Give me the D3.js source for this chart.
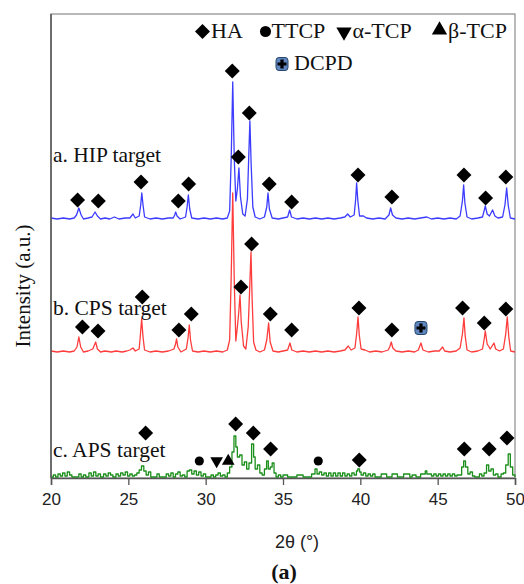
<!DOCTYPE html>
<html>
<head>
<meta charset="utf-8">
<script src="https://cdn.jsdelivr.net/npm/d3@7/dist/d3.min.js"></script>
<style>
  html, body { margin: 0; padding: 0; background: #fff; }
  svg { display: block; }
</style>
</head>
<body>
<script>
// XRD patterns of the three targets, 2θ (°) vs intensity (a.u., relative to each pattern's own baseline)
const hipPattern = [
  [20.0,1],[20.4,0],[20.8,1],[21.2,0],[21.5,1],[21.65,4],[21.8,11],[21.95,4],[22.1,0],[22.4,1],[22.65,2],[22.85,7],[23.0,3],[23.2,0],
  [23.5,1],[23.8,0],[24.1,2],[24.4,0],[24.8,1],[25.1,1],[25.3,5],[25.45,1],[25.7,3],[25.8,14],[25.87,26],[25.95,14],[26.05,2],
  [26.4,0],[26.8,1],[27.2,0],[27.6,1],[27.9,1],[28.0,4],[28.06,7],[28.15,3],[28.35,0],[28.7,2],[28.8,12],[28.88,24],[28.97,10],
  [29.1,1],[29.5,0],[29.9,1],[30.3,0],[30.7,1],[31.1,0],[31.4,1],[31.55,8],[31.65,60],[31.75,137],[31.85,60],[31.95,18],[32.05,30],
  [32.15,51],[32.25,22],[32.4,5],[32.55,3],[32.7,20],[32.78,60],[32.86,98],[32.94,55],[33.05,12],[33.2,2],[33.5,0],[33.8,2],
  [33.95,12],[34.03,26],[34.12,10],[34.3,1],[34.7,0],[35.0,1],[35.3,2],[35.43,9],[35.55,2],[35.9,0],[36.3,1],[36.7,0],[37.1,1],
  [37.5,0],[37.9,1],[38.3,0],[38.7,1],[39.0,2],[39.18,5],[39.35,2],[39.6,4],[39.7,20],[39.76,36],[39.84,18],[39.95,3],[40.2,3],
  [40.4,1],[40.8,0],[41.2,1],[41.6,0],[41.85,4],[41.96,11],[42.08,4],[42.3,1],[42.7,0],[43.1,1],[43.5,0],[43.9,1],[44.3,2],
  [44.6,0],[45.0,1],[45.4,0],[45.8,1],[46.2,0],[46.45,3],[46.6,18],[46.68,34],[46.76,16],[46.9,2],[47.2,0],[47.6,1],[47.9,2],
  [48.0,8],[48.08,13],[48.2,5],[48.35,3],[48.55,9],[48.7,3],[48.9,1],[49.2,2],[49.35,14],[49.46,31],[49.56,14],[49.7,1],[50.0,0]
];

const cpsPattern = [
  [20.0,1],[20.4,0],[20.8,1],[21.2,0],[21.5,1],[21.68,5],[21.8,15],[21.92,5],[22.1,0],[22.4,1],[22.7,3],[22.89,10],[23.0,3],
  [23.2,0],[23.5,1],[23.9,0],[24.2,1],[24.6,0],[24.9,1],[25.1,2],[25.3,4],[25.45,1],[25.7,3],[25.78,17],[25.86,33],[25.95,15],
  [26.05,2],[26.4,0],[26.8,1],[27.2,0],[27.6,1],[27.95,3],[28.05,8],[28.12,13],[28.2,5],[28.4,0],[28.75,3],[28.86,14],[28.94,27],
  [29.02,12],[29.15,1],[29.5,0],[29.9,1],[30.3,0],[30.7,1],[31.1,0],[31.4,2],[31.55,12],[31.65,75],[31.75,159],[31.85,70],
  [31.95,11],[32.05,25],[32.14,40],[32.22,57],[32.3,30],[32.45,6],[32.6,3],[32.75,25],[32.85,65],[32.93,100],[33.0,55],[33.1,10],
  [33.25,2],[33.5,0],[33.8,2],[33.95,12],[34.07,29],[34.17,10],[34.35,1],[34.7,0],[35.0,1],[35.3,2],[35.45,9],[35.57,2],[35.9,0],
  [36.3,1],[36.7,0],[37.1,1],[37.5,0],[37.9,1],[38.3,0],[38.7,1],[39.0,2],[39.22,6],[39.4,2],[39.65,4],[39.76,18],[39.85,35],
  [39.93,17],[40.05,3],[40.3,2],[40.6,0],[41.0,1],[41.4,0],[41.8,2],[41.9,5],[42.0,10],[42.1,4],[42.3,1],[42.7,0],[43.1,1],
  [43.5,0],[43.75,2],[43.92,9],[44.05,2],[44.4,0],[44.8,1],[45.1,1],[45.32,5],[45.45,1],[45.8,0],[46.2,1],[46.45,4],[46.6,18],
  [46.7,34],[46.78,16],[46.9,2],[47.2,0],[47.6,1],[47.9,3],[48.0,12],[48.08,21],[48.2,8],[48.4,3],[48.64,9],[48.75,3],[49.0,1],
  [49.25,3],[49.4,18],[49.5,35],[49.6,15],[49.72,1],[50.0,0]
];

const apsPattern = [
  [20.0,0],[20.15,2],[20.3,0],[20.45,3],[20.6,1],[20.75,4],[20.9,1],[21.05,5],[21.2,2],[21.35,0],[21.5,0],[21.8,3],[21.95,0],
  [22.1,2],[22.25,0],[22.45,4],[22.6,1],[22.75,5],[22.9,1],[23.05,3],[23.2,0],[23.4,3],[23.55,1],[23.7,4],[23.85,2],[24.0,0],
  [24.2,3],[24.35,1],[24.5,4],[24.65,2],[24.8,5],[24.95,1],[25.1,3],[25.25,1],[25.4,2],[25.55,4],[25.7,7],[25.85,11],[26.0,6],
  [26.15,2],[26.3,5],[26.45,0],[26.7,0],[26.85,3],[27.0,0],[27.3,0],[27.45,3],[27.6,1],[27.75,4],[27.9,0],[28.05,3],[28.2,5],
  [28.35,1],[28.5,2],[28.65,0],[28.8,6],[28.95,7],[29.1,3],[29.25,6],[29.4,2],[29.55,5],[29.7,1],[29.85,3],[30.0,0],[30.2,0],
  [30.35,2],[30.5,0],[30.65,2],[30.8,4],[30.95,1],[31.1,2],[31.25,0],[31.4,4],[31.55,10],[31.7,25],[31.83,41],[31.95,30],
  [32.05,20],[32.2,22],[32.35,12],[32.5,15],[32.65,8],[32.8,14],[32.97,33],[33.1,20],[33.2,8],[33.35,12],[33.5,4],[33.65,2],
  [33.8,8],[33.94,16],[34.05,8],[34.18,10],[34.3,14],[34.42,4],[34.55,0],[34.7,2],[34.85,0],[35.0,2],[35.15,2],[35.3,0],[35.8,0],
  [35.9,2],[36.2,2],[36.3,0],[36.75,0],[36.85,3],[37.07,8],[37.2,3],[37.35,5],[37.5,2],[37.65,4],[37.8,1],[37.95,4],[38.1,1],
  [38.25,4],[38.4,1],[38.55,4],[38.7,1],[38.85,4],[39.0,1],[39.15,3],[39.3,1],[39.45,4],[39.6,2],[39.75,6],[39.83,8],[39.95,5],
  [40.05,2],[40.2,4],[40.35,1],[40.5,3],[40.65,1],[40.8,3],[40.95,0],[41.25,0],[41.35,3],[41.6,3],[41.7,0],[41.95,0],[42.05,3],
  [42.3,3],[42.4,0],[42.7,0],[42.8,3],[43.1,3],[43.2,0],[43.35,2],[43.5,2],[43.6,0],[43.8,0],[43.9,3],[44.1,3],[44.2,6],[44.3,3],
  [44.5,3],[44.6,1],[44.75,3],[44.9,1],[45.05,3],[45.2,1],[45.35,3],[45.5,1],[45.65,3],[45.8,1],[45.95,3],[46.1,1],[46.25,2],
  [46.4,2],[46.55,10],[46.68,16],[46.8,10],[46.95,3],[47.1,5],[47.25,1],[47.4,0],[47.6,0],[47.7,3],[47.85,1],[48.0,4],[48.16,12],
  [48.3,6],[48.45,8],[48.6,2],[48.75,3],[48.9,0],[49.1,3],[49.25,4],[49.4,12],[49.56,23],[49.7,10],[49.85,2],[50.0,0]
];

// vertical offset of each stacked pattern (a.u.)
const patternNames = ["a. HIP target", "b. CPS target", "c. APS target"];
const patternOffsets = [259, 126, 1];

// phase identification marks: [2θ, height above the pattern baseline, phase]
const hipPhases = [
  [21.72,19,"HA"],[23.06,18,"HA"],[25.82,37,"HA"],[28.23,18,"HA"],[28.9,35,"HA"],[31.72,148,"HA"],[32.11,62,"HA"],
  [32.82,106,"HA"],[34.11,35,"HA"],[35.56,17,"HA"],[39.85,44,"HA"],[42.04,22,"HA"],[46.7,44,"HA"],[48.1,21,"HA"],[49.41,42,"HA"]
];
const cpsPhases = [
  [22.03,25,"HA"],[23.04,21,"HA"],[25.9,55,"HA"],[28.27,22,"HA"],[29.07,38,"HA"],[32.28,65,"HA"],[32.97,108,"HA"],
  [34.18,38,"HA"],[35.56,22,"HA"],[39.91,44,"HA"],[42.04,22,"HA"],[43.92,24,"DCPD"],[46.61,44,"HA"],[48.01,29,"HA"],[49.41,43,"HA"]
];
const apsPhases = [
  [26.12,44,"HA"],[29.59,16,"TTCP"],[30.71,16,"aTCP"],[31.46,16,"bTCP"],[31.94,53,"HA"],[33.08,44,"HA"],[34.2,28,"HA"],
  [37.28,16,"TTCP"],[39.93,17,"HA"],[46.72,28,"HA"],[48.33,28,"HA"],[49.48,39,"HA"]
];

const xTicks = [20, 25, 30, 35, 40, 45, 50];
const legendRow1 = [["HA","HA"],["TTCP","TTCP"],["aTCP","α-TCP"],["bTCP","β-TCP"]];
const legendRow2 = [["DCPD","DCPD"]];

const W = 524, H = 584;
const margin = { left: 51, right: 9, top: 14, bottom: 106 };
const plotW = W - margin.left - margin.right;
const plotH = H - margin.top - margin.bottom;

const svg = d3.select("body").append("svg").attr("width", W).attr("height", H);

const x = d3.scaleLinear().domain([20, 50]).range([margin.left, margin.left + plotW]);
const y = d3.scaleLinear().domain([0, 464]).range([margin.top + plotH, margin.top]);

const serif = "'Liberation Serif', 'Times New Roman', serif";
const sans = "'Liberation Sans', Arial, sans-serif";

// frame
svg.append("rect")
  .attr("x", margin.left).attr("y", margin.top)
  .attr("width", plotW).attr("height", plotH)
  .attr("fill", "none").attr("stroke", "#8a8a8a").attr("stroke-width", 1.2);

// patterns
const colors = ["#3c3cff", "#ff3c3c", "#1a8f1a"];
const patterns = [hipPattern, cpsPattern, apsPattern];
const curves = [d3.curveLinear, d3.curveLinear, d3.curveStepAfter];

patterns.forEach((pat, i) => {
  const line = d3.line()
    .x(d => x(d[0]))
    .y(d => y(d[1] + patternOffsets[i]))
    .curve(curves[i]);
  svg.append("path")
    .datum(pat)
    .attr("d", line)
    .attr("fill", "none")
    .attr("stroke", colors[i])
    .attr("stroke-width", 1.3)
    .attr("stroke-linejoin", "round");
});

// marker shapes
const diamond = {
  draw(ctx, size) {
    const r = Math.sqrt(size / 2);
    ctx.moveTo(0, -r); ctx.lineTo(r, 0); ctx.lineTo(0, r); ctx.lineTo(-r, 0); ctx.closePath();
  }
};

function drawPhase(g, phase, cx, cy, k = 1) {
  if (phase === "HA") {
    g.append("path").attr("d", d3.symbol().type(diamond).size(112 * k)())
      .attr("transform", `translate(${cx},${cy})`).attr("fill", "#000");
  } else if (phase === "TTCP") {
    g.append("path").attr("d", d3.symbol().type(d3.symbolCircle).size(66 * k)())
      .attr("transform", `translate(${cx},${cy})`).attr("fill", "#000");
  } else if (phase === "aTCP") {
    g.append("path").attr("d", d3.symbol().type(d3.symbolTriangle).size(70 * k)())
      .attr("transform", `translate(${cx},${cy}) rotate(180)`).attr("fill", "#000");
  } else if (phase === "bTCP") {
    g.append("path").attr("d", d3.symbol().type(d3.symbolTriangle).size(70 * k)())
      .attr("transform", `translate(${cx},${cy})`).attr("fill", "#000");
  } else if (phase === "DCPD") {
    const m = g.append("g").attr("transform", `translate(${cx},${cy})`);
    m.append("rect").attr("x", -6).attr("y", -6.5).attr("width", 12).attr("height", 13).attr("rx", 3)
      .attr("fill", "#5f86bd").attr("stroke", "#24466f").attr("stroke-width", 1);
    m.append("path").attr("d", "M-1.6,-4.5H1.6V-1.6H4.5V1.6H1.6V4.5H-1.6V1.6H-4.5V-1.6H-1.6Z").attr("fill", "#000");
  }
}

const markerLayer = svg.append("g");
[hipPhases, cpsPhases, apsPhases].forEach((marks, i) => {
  marks.forEach(m => drawPhase(markerLayer, m[2], x(m[0]), y(m[1] + patternOffsets[i])));
});

// pattern labels
const labelBaselines = [162, 315, 457];
patternNames.forEach((name, i) => {
  svg.append("text")
    .attr("x", margin.left + 2).attr("y", labelBaselines[i])
    .attr("font-family", serif).attr("font-size", 21.5).attr("fill", "#111")
    .text(name);
});

// x axis
const xAxis = d3.axisBottom(x).tickValues(xTicks).tickSize(7).tickPadding(8).tickFormat(d3.format("d"));
const gx = svg.append("g").attr("transform", `translate(0,${margin.top + plotH})`).call(xAxis);
gx.select(".domain").attr("stroke", "#555").attr("stroke-width", 1.5);
gx.selectAll(".tick line").attr("stroke", "#555").attr("stroke-width", 1.3);
gx.selectAll(".tick text").attr("font-family", sans).attr("font-size", 17).attr("fill", "#222");

// left axis line
svg.append("line")
  .attr("x1", margin.left).attr("x2", margin.left)
  .attr("y1", margin.top).attr("y2", margin.top + plotH)
  .attr("stroke", "#555").attr("stroke-width", 1.5);

// axis titles
svg.append("text")
  .attr("x", 297).attr("y", 548)
  .attr("text-anchor", "middle").attr("font-family", sans).attr("font-size", 18).attr("fill", "#222")
  .text("2θ (°)");

svg.append("text")
  .attr("transform", "translate(30,286) rotate(-90)")
  .attr("text-anchor", "middle").attr("font-family", serif).attr("font-size", 21).attr("fill", "#111")
  .text("Intensity (a.u.)");

svg.append("text")
  .attr("x", 284).attr("y", 579)
  .attr("text-anchor", "middle").attr("font-family", serif).attr("font-weight", "bold").attr("font-size", 22).attr("fill", "#111")
  .text("(a)");

// legend
const legendX1 = [202.5, 265.5, 344, 439.5];
legendRow1.forEach((item, i) => {
  drawPhase(svg, item[0], legendX1[i], item[0] === "bTCP" ? 30 : (item[0] === "aTCP" ? 32 : 31.5), item[0] === "HA" ? 1 : 1.45);
  svg.append("text")
    .attr("x", legendX1[i] + (item[0] === "TTCP" ? 6 : 8.5)).attr("y", 38)
    .attr("font-family", serif).attr("font-size", 22).attr("fill", "#111")
    .text(item[1]);
});
legendRow2.forEach(item => {
  drawPhase(svg, item[0], 282, 64);
  svg.append("text")
    .attr("x", 294).attr("y", 70)
    .attr("font-family", serif).attr("font-size", 22).attr("fill", "#111")
    .text(item[1]);
});
</script>
</body>
</html>
